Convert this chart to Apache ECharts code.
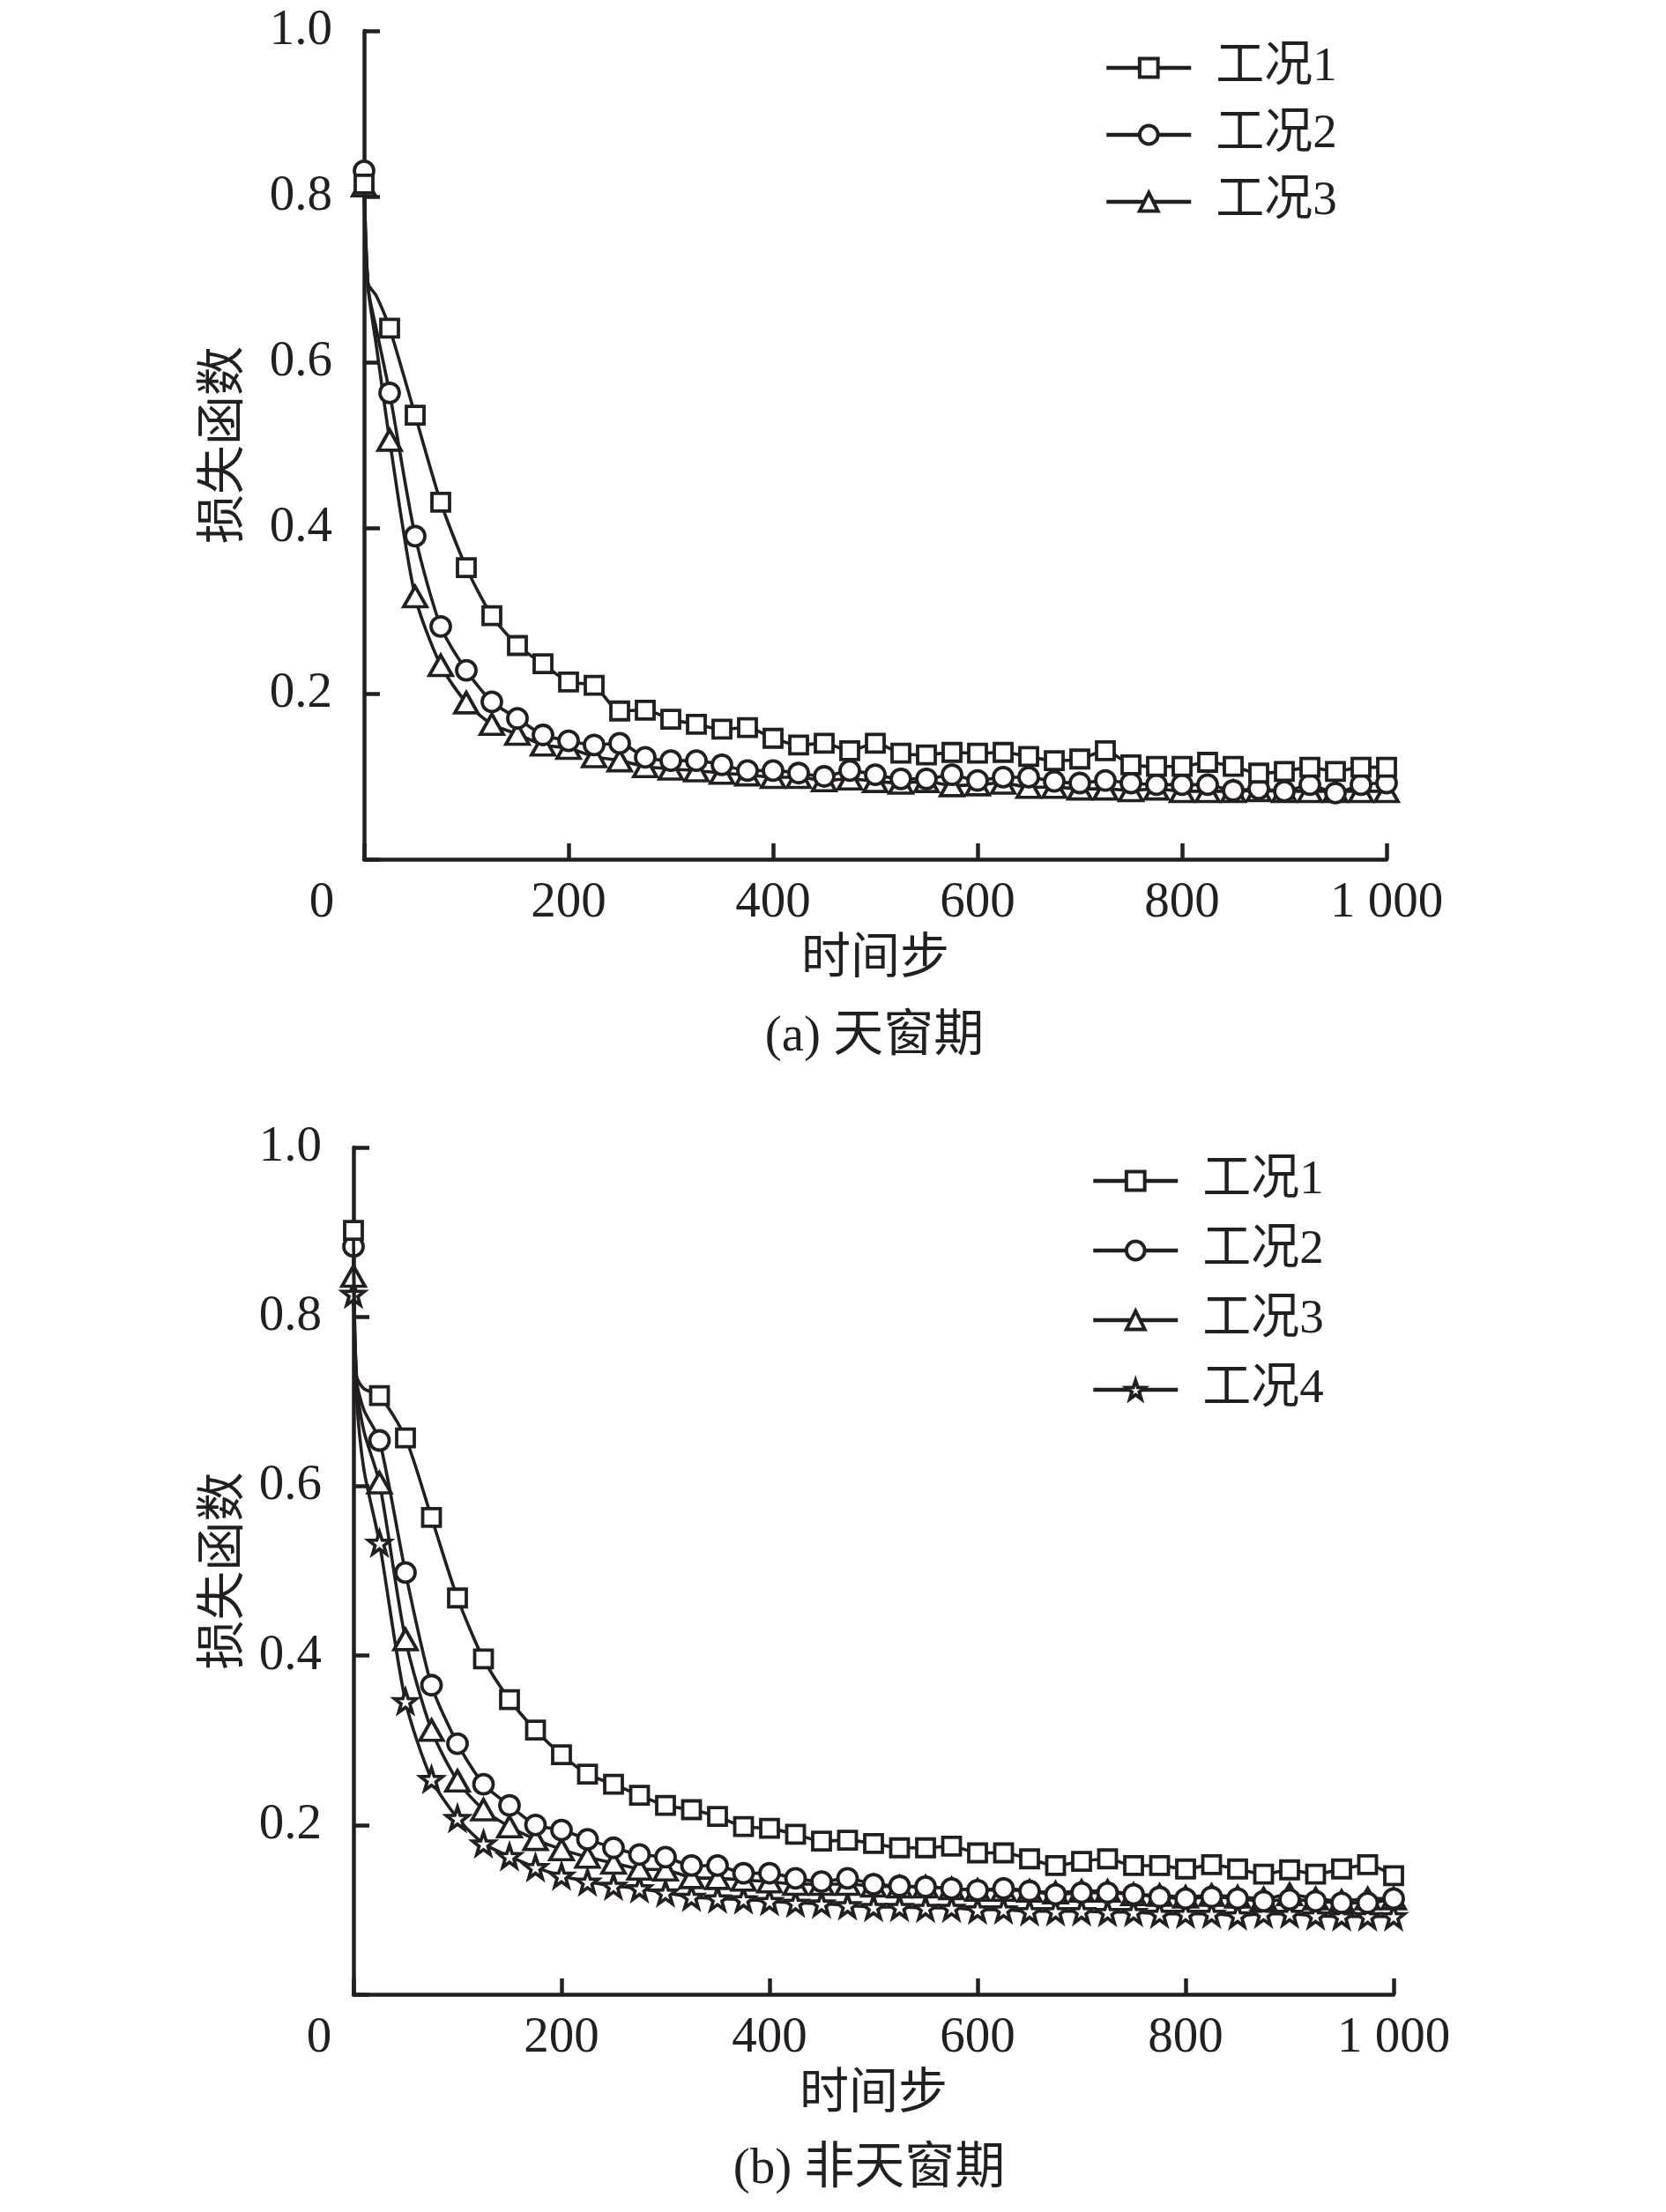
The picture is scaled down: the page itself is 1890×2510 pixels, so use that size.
<!DOCTYPE html>
<html><head><meta charset="utf-8">
<script src="https://cdn.jsdelivr.net/npm/echarts@6/dist/echarts.min.js"></script>
<style>html,body{margin:0;padding:0;background:#fff}#c{width:1890px;height:2510px}</style>
</head><body><div id="c"></div>
<script>
// ---- data ----
const steps = [0,25,50,75,100,125,150,175,200,225,250,275,300,325,350,375,400,425,450,475,500,525,550,575,600,625,650,675,700,725,750,775,800,825,850,875,900,925,950,975,1000];
const xTicks = [0,200,400,600,800,1000];
const yTicks = [0.2,0.4,0.6,0.8,1.0];
const seriesNames = ['工况1','工况2','工况3','工况4'];

// (a) 天窗期
const topCase1 = [0.815,0.641,0.536,0.431,0.352,0.294,0.258,0.236,0.214,0.210,0.179,0.180,0.169,0.163,0.157,0.159,0.146,0.138,0.140,0.131,0.140,0.128,0.126,0.129,0.128,0.129,0.124,0.119,0.121,0.131,0.114,0.112,0.112,0.117,0.112,0.104,0.106,0.111,0.106,0.111,0.111];
const topCase2 = [0.831,0.563,0.390,0.281,0.228,0.190,0.170,0.150,0.143,0.138,0.140,0.123,0.119,0.119,0.114,0.107,0.107,0.104,0.100,0.107,0.102,0.097,0.097,0.102,0.095,0.099,0.099,0.094,0.092,0.095,0.092,0.090,0.090,0.090,0.083,0.085,0.082,0.090,0.080,0.090,0.092];
const topCase3 = [0.813,0.506,0.317,0.234,0.189,0.163,0.151,0.138,0.134,0.124,0.119,0.112,0.109,0.107,0.104,0.102,0.099,0.099,0.095,0.097,0.094,0.092,0.094,0.089,0.090,0.092,0.087,0.087,0.085,0.085,0.083,0.085,0.082,0.082,0.082,0.083,0.082,0.082,0.082,0.082,0.082];
const topKneeSteps = [4,12];
const topKnee1 = [0.695,0.680];
const topKnee2 = [0.690,0.640];
const topKnee3 = [0.690,0.620];

// (b) 非天窗期
const botCase1 = [0.902,0.707,0.657,0.563,0.468,0.396,0.348,0.312,0.283,0.260,0.248,0.235,0.223,0.218,0.210,0.198,0.196,0.189,0.181,0.182,0.178,0.173,0.173,0.175,0.167,0.167,0.160,0.152,0.157,0.160,0.152,0.152,0.148,0.153,0.148,0.142,0.147,0.142,0.148,0.153,0.140];
const botCase2 = [0.883,0.654,0.498,0.365,0.296,0.248,0.223,0.200,0.194,0.183,0.173,0.165,0.162,0.152,0.152,0.143,0.143,0.137,0.133,0.137,0.130,0.128,0.127,0.125,0.123,0.125,0.122,0.118,0.120,0.120,0.118,0.115,0.113,0.115,0.113,0.110,0.112,0.110,0.108,0.108,0.113];
const botCase3 = [0.848,0.604,0.419,0.312,0.252,0.218,0.198,0.183,0.171,0.162,0.155,0.148,0.147,0.138,0.137,0.135,0.133,0.130,0.130,0.130,0.128,0.127,0.127,0.125,0.123,0.123,0.122,0.120,0.122,0.122,0.118,0.117,0.115,0.117,0.115,0.113,0.118,0.113,0.110,0.113,0.113];
const botCase4 = [0.827,0.533,0.346,0.254,0.208,0.178,0.163,0.150,0.140,0.133,0.128,0.125,0.120,0.115,0.113,0.112,0.110,0.108,0.107,0.105,0.103,0.103,0.102,0.102,0.100,0.100,0.098,0.098,0.098,0.097,0.097,0.095,0.095,0.095,0.093,0.095,0.095,0.093,0.092,0.092,0.092];
const botKneeSteps = [3,10];
const botKnee1 = [0.730,0.715];
const botKnee2 = [0.725,0.690];
const botKnee3 = [0.720,0.665];
const botKnee4 = [0.705,0.620];

// ---- styling ----
const FONT = "'Liberation Serif','Times New Roman','Noto Sans CJK SC',serif";
const INK = '#231f20';
const STAR = 'path://M0,-10L2.35,-3.24L9.51,-3.09L3.8,1.24L5.88,8.09L0,4L-5.88,8.09L-3.8,1.24L-9.51,-3.09L-2.35,-3.24Z';
const symbols = ['rect','circle','triangle',STAR];
const symSizes = [20,22,[26,23],25];

function buildData(values, kneeSteps, kneeVals){
  const d = [{value:[steps[0], values[0]]}];
  kneeSteps.forEach((s,i)=>d.push({value:[s, kneeVals[i]], symbol:'none'}));
  for (let i=1;i<steps.length;i++) d.push({value:[steps[i], values[i]]});
  return d;
}
function mkSeries(idx, gi, values, kneeSteps, kneeVals){
  return {
    type:'line', name:seriesNames[idx], xAxisIndex:gi, yAxisIndex:gi,
    data: buildData(values, kneeSteps, kneeVals),
    symbol: symbols[idx], symbolSize: symSizes[idx], showAllSymbol:true,
    smooth:0.25, animation:false,
    lineStyle:{color:INK, width:3.6},
    itemStyle:{color:'#fff', borderColor:INK, borderWidth:3.8},
    z: 10-idx
  };
}
function xAxisCfg(gi, zeroPad){
  return {
    gridIndex:gi, type:'value', min:xTicks[0], max:xTicks[xTicks.length-1], interval:200,
    axisLine:{onZero:true, lineStyle:{color:INK, width:4.5}},
    axisTick:{inside:true, length:18, lineStyle:{color:INK, width:4.5}},
    splitLine:{show:false},
    axisLabel:{
      margin:22, fontSize:57, fontFamily:FONT, color:INK,
      formatter:v=> v===0 ? '{o|0}' : (v>=1000 ? '1 000' : String(v)),
      rich:{o:{fontSize:57, fontFamily:FONT, color:INK, padding:[0,zeroPad,0,0]}}
    },
    name:'时间步', nameLocation:'middle', nameGap:86,
    nameTextStyle:{fontSize:56, fontFamily:FONT, color:INK}
  };
}
function yAxisCfg(gi, gap){
  return {
    gridIndex:gi, type:'value', min:0, max:yTicks[yTicks.length-1], interval:0.2,
    axisLine:{lineStyle:{color:INK, width:4.5}},
    axisTick:{inside:true, length:18, lineStyle:{color:INK, width:4.5}},
    splitLine:{show:false},
    axisLabel:{margin:36, fontSize:57, fontFamily:FONT, color:INK,
      formatter:v=> v===0 ? '' : v.toFixed(1)},
    name:'损失函数', nameLocation:'middle', nameGap:gap, nameRotate:90,
    nameTextStyle:{fontSize:56, fontFamily:FONT, color:INK}
  };
}
function legendCfg(top, left, gap, names){
  return {
    orient:'vertical', top:top, left:left, itemWidth:96, itemHeight:26, itemGap:gap,
    selectedMode:false, data:names,
    lineStyle:{color:INK, width:4.5},
    itemStyle:{color:'#fff', borderColor:INK, borderWidth:4},
    textStyle:{fontSize:55, fontFamily:FONT, color:INK, lineHeight:56, padding:[0,0,0,23]}
  };
}

const chart = echarts.init(document.getElementById('c'), null, {renderer:'canvas'});
chart.setOption({
  backgroundColor:'#fff',
  animation:false,
  grid:[
    {left:413, top:35, width:1160, height:940},
    {left:401, top:1302, width:1180, height:961}
  ],
  xAxis:[xAxisCfg(0,96), xAxisCfg(1,78)],
  yAxis:[yAxisCfg(0,130), yAxisCfg(1,118)],
  legend:[
    legendCfg(44, 1248, 20, seriesNames.slice(0,3)),
    legendCfg(1307, 1233, 23, seriesNames.slice(0,4))
  ],
  graphic:[
    {type:'text', x:992, y:1177, style:{text:'(a) 天窗期', fontSize:57, fontFamily:FONT, fill:INK, align:'center', verticalAlign:'middle', textAlign:'center', textVerticalAlign:'middle'}},
    {type:'text', x:986, y:2462, style:{text:'(b) 非天窗期', fontSize:57, fontFamily:FONT, fill:INK, align:'center', verticalAlign:'middle', textAlign:'center', textVerticalAlign:'middle'}}
  ],
  series:[
    mkSeries(0,0,topCase1,topKneeSteps,topKnee1),
    mkSeries(1,0,topCase2,topKneeSteps,topKnee2),
    mkSeries(2,0,topCase3,topKneeSteps,topKnee3),
    mkSeries(0,1,botCase1,botKneeSteps,botKnee1),
    mkSeries(1,1,botCase2,botKneeSteps,botKnee2),
    mkSeries(2,1,botCase3,botKneeSteps,botKnee3),
    mkSeries(3,1,botCase4,botKneeSteps,botKnee4)
  ]
});
</script></body></html>
